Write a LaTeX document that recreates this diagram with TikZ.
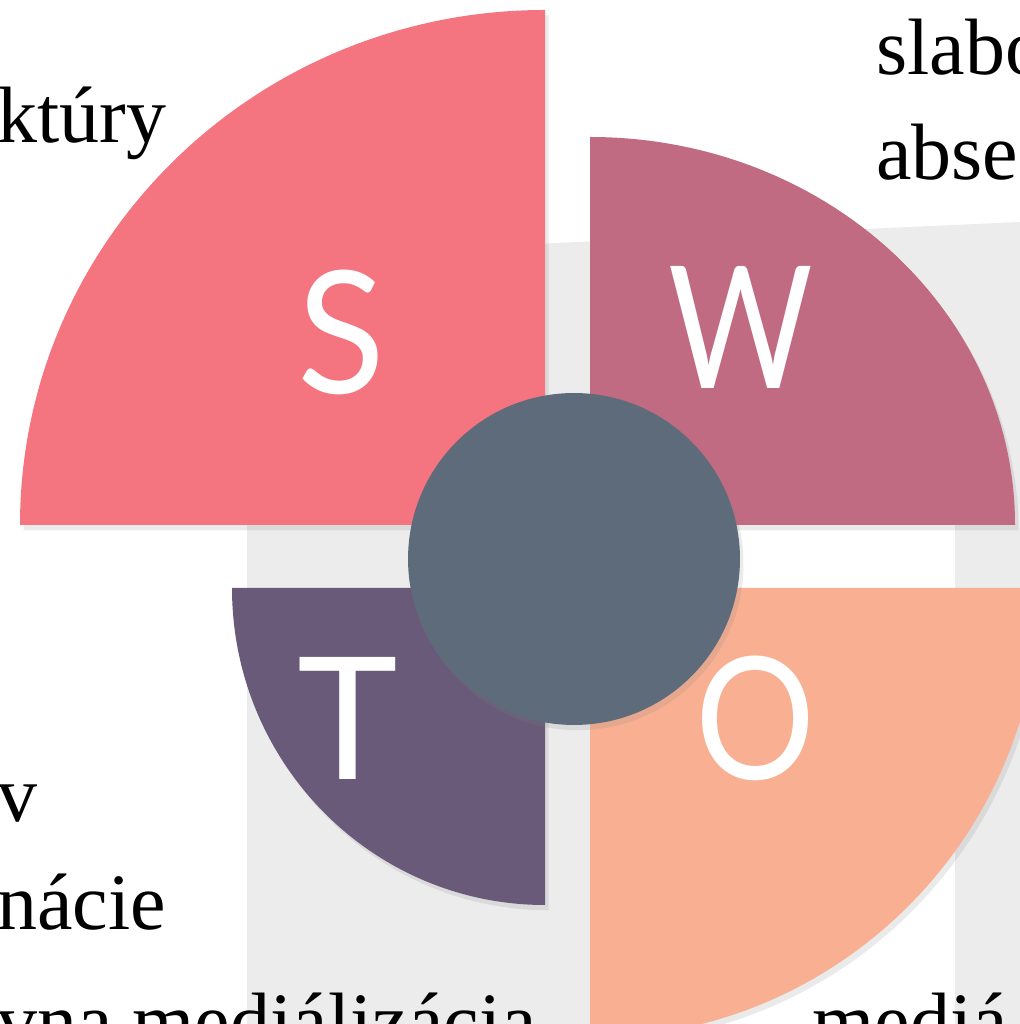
\documentclass[tikz,border=0pt]{standalone}
\usepackage{fontspec}
\setmainfont{Liberation Serif}
\newfontfamily\swotfont{Lato}
\usepackage{xcolor}
\usetikzlibrary{shadows}
\definecolor{swotpink}{RGB}{244,116,128}
\definecolor{swotrose}{RGB}{192,107,130}
\definecolor{swotplum}{RGB}{106,90,122}
\definecolor{swotpeach}{RGB}{249,175,145}
\definecolor{hubslate}{RGB}{94,107,123}
\definecolor{bggray}{RGB}{236,236,236}

\begin{document}
\begin{tikzpicture}[
  x=0.02cm, y=0.02cm,
  petal/.style={fill=#1, drop shadow={shadow xshift=2pt, shadow yshift=-3pt, opacity=0.16}},
  hub/.style={circle, fill=hubslate, minimum size=6.64cm, inner sep=0pt,
              drop shadow={shadow xshift=2pt, shadow yshift=-3pt, opacity=0.16}},
  letter/.style={text=white, font=\swotfont\fontsize{97}{100}\selectfont, inner sep=0pt},
  frag/.style={text=black, font=\fontsize{45.5}{50}\selectfont, inner sep=0pt, anchor=base west},
]

%% Frame (pixel units, y up)
\useasboundingbox (0,0) rectangle (1020,1024);
\clip (0,0) rectangle (1020,1024);

%% Corners of the four quarters
\def\xL{545}   % right edge of S and T
\def\xR{590}   % left edge of W and O
\def\yU{499}   % bottom edge of S and W
\def\yD{436}   % top edge of T and O

%% Background panel
\fill[bggray] (247,0) -- (247,767) -- (1020,802) -- (1020,0) -- cycle;
\fill[white] (600,0) rectangle (955,\yU);

%% Quarters
\path[petal=swotpink]  (\xL,\yU) -- ++(0,515)
  arc[start angle=90, end angle=180, x radius=525, y radius=515] -- cycle;
\path[petal=swotrose]  (\xR,\yU) -- ++(425,0)
  arc[start angle=0, end angle=90, x radius=425, y radius=388] -- cycle;
\path[petal=swotplum]  (\xL,\yD) -- ++(-313,0)
  arc[start angle=180, end angle=270, x radius=313, y radius=317] -- cycle;
\path[petal=swotpeach] (\xR,\yD) -- ++(0,-450)
  arc[start angle=270, end angle=360, radius=450] -- cycle;

%% Centre disc
\node[hub] (hub) at (574,465) {};

%% Letters
\node[letter, xscale=0.95] (s) at (341,692) {S};
\node[letter, xscale=0.82] (w) at (741,697) {W};
\node[letter]              (t) at (348,306) {T};
\node[letter, xscale=0.88] (o) at (756,306) {O};

%% Text fragments
\node[frag] (ktury) at (-3,881) {ktúry};
\node[frag] (slabo) at (876,949) {slabo};
\node[frag] (abse)  at (876,844) {abse};
\node[frag] (v)     at (-3,202) {v};
\node[frag] (nacie) at (-3,94)  {nácie};
\node[frag] (medial) at (-3,-25) {vna mediálizácia};
\node[frag] (media) at (812,-25) {mediá};

\end{tikzpicture}
\end{document}
